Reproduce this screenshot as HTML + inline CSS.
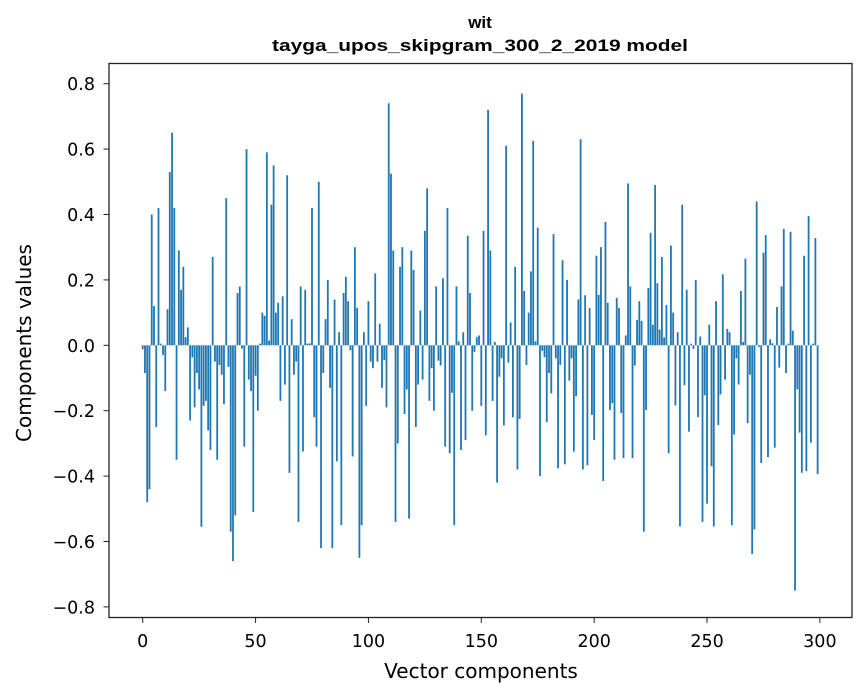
<!DOCTYPE html>
<html><head><meta charset="utf-8"><style>
body{margin:0;background:#fff}
svg{display:block;font-family:"DejaVu Sans","Liberation Sans",sans-serif}
</style></head><body>
<svg id="chart" width="867" height="696" viewBox="0 0 867 696">
<text x="480" y="28" text-anchor="middle" font-size="17" font-weight="bold" font-family="Liberation Sans, sans-serif">wit</text>
<text x="272" y="51" textLength="416" lengthAdjust="spacingAndGlyphs" font-size="17" font-weight="bold" font-family="Liberation Sans, sans-serif">tayga_upos_skipgram_300_2_2019 model</text>
<g id="bars"></g>
<g id="axes"></g>
<rect x="109" y="63.5" width="743" height="554" fill="none" stroke="#222" stroke-width="1.3"/>
<text x="481" y="678" text-anchor="middle" font-size="20">Vector components</text>
<text transform="translate(31,343) rotate(-90)" text-anchor="middle" font-size="20">Components values</text>
</svg>
<script>
const values = [-0.012,-0.085,-0.48,-0.44,0.40,0.12,-0.25,0.42,0.005,-0.03,
-0.14,0.11,0.53,0.65,0.42,-0.35,0.29,0.17,0.24,0.025,
0.055,-0.23,-0.037,-0.19,-0.085,-0.135,-0.555,-0.185,-0.17,-0.26,
-0.32,0.27,-0.05,-0.35,-0.06,-0.09,-0.18,0.45,-0.066,-0.57,
-0.66,-0.52,0.16,0.18,-0.01,-0.31,0.60,-0.105,-0.14,-0.51,
-0.093,-0.20,0.005,0.10,0.09,0.59,0.015,0.43,0.55,0.10,
0.13,-0.17,0.15,-0.12,0.52,-0.39,0.08,-0.09,-0.05,-0.54,
0.18,-0.325,0.17,0.005,0.006,0.42,-0.22,-0.31,0.50,-0.62,
-0.085,0.08,0.20,-0.13,-0.62,0.14,-0.355,0.04,-0.55,0.16,
0.21,0.135,-0.015,-0.34,0.30,0.115,-0.65,-0.55,0.04,-0.185,
0.135,-0.05,-0.07,0.22,-0.05,0.066,-0.13,-0.045,-0.19,0.74,
0.525,0.29,-0.54,-0.30,0.24,0.30,-0.21,-0.135,-0.53,0.29,
0.23,-0.25,-0.12,0.106,-0.105,0.35,0.48,-0.17,-0.07,-0.20,
0.18,-0.047,-0.062,0.205,-0.31,0.42,-0.33,-0.145,-0.55,0.18,
0.012,-0.32,0.04,-0.29,0.335,0.16,-0.20,-0.02,0.025,0.03,
-0.185,0.35,-0.275,0.72,0.29,-0.17,0.01,-0.42,-0.096,-0.04,
-0.245,0.61,-0.053,0.07,-0.22,0.24,-0.38,-0.225,0.77,0.166,
-0.06,0.10,0.226,0.625,0.012,0.36,-0.40,-0.017,-0.036,-0.235,
-0.085,-0.147,0.34,-0.04,-0.376,-0.06,0.26,-0.364,0.20,-0.108,
-0.04,-0.325,-0.156,0.14,0.63,-0.38,0.153,-0.367,0.114,-0.213,
-0.29,0.274,0.154,0.30,-0.415,0.377,0.13,-0.198,-0.177,-0.35,
0.145,0.114,-0.207,-0.345,0.03,0.495,0.18,-0.345,-0.062,0.078,
0.135,0.075,-0.57,-0.198,0.175,0.344,0.063,0.49,0.19,0.048,
0.27,0.024,0.123,-0.33,0.305,0.10,-0.184,0.04,-0.554,0.43,
-0.122,0.17,-0.264,0.005,-0.011,0.20,-0.22,0.027,-0.54,-0.153,
-0.484,0.063,-0.37,-0.554,0.135,-0.244,-0.15,0.217,-0.105,0.05,
0.04,-0.55,-0.273,-0.04,-0.12,0.166,0.01,0.265,-0.238,-0.09,
-0.638,-0.563,0.44,-0.005,-0.36,0.283,0.337,-0.342,0.018,0.006,
-0.313,0.117,-0.068,0.18,0.356,-0.085,0.005,0.347,0.045,-0.75,
-0.135,-0.267,-0.39,0.274,-0.385,0.395,-0.298,0.005,0.328,-0.394];
const xTicks = [0,50,100,150,200,250,300];
const yTicks = [-0.8,-0.6,-0.4,-0.2,0.0,0.2,0.4,0.6,0.8];
const NS='http://www.w3.org/2000/svg';
function xs(i){return 142.7 + i*2.2573;}
function ys(v){return 345.3 - v*327;}
const bars=document.getElementById('bars');
values.forEach((v,i)=>{
  const r=document.createElementNS(NS,'rect');
  
  
  const w=0.8*2.2573;
  r.setAttribute('x',xs(i)-w/2);
  r.setAttribute('width',w);
  r.setAttribute('y',Math.min(ys(v),ys(0)));
  r.setAttribute('height',Math.abs(ys(v)-ys(0)));
  r.setAttribute('fill','#1f77b4');
  bars.appendChild(r);
});
const axes=document.getElementById('axes');
xTicks.forEach(t=>{
  const l=document.createElementNS(NS,'line');
  
  
  l.setAttribute('x1',xs(t));l.setAttribute('x2',xs(t));
  l.setAttribute('y1',617.5);l.setAttribute('y2',623);
  l.setAttribute('stroke','#222');
  axes.appendChild(l);
  const tx=document.createElementNS(NS,'text');
  
  
  tx.setAttribute('x',xs(t));tx.setAttribute('y',647);
  tx.setAttribute('text-anchor','middle');tx.setAttribute('font-size','17.5');
  tx.textContent=t;
  axes.appendChild(tx);
});
yTicks.forEach(t=>{
  const l=document.createElementNS(NS,'line');
  
  
  l.setAttribute('x1',103.5);l.setAttribute('x2',109);
  l.setAttribute('y1',ys(t));l.setAttribute('y2',ys(t));
  l.setAttribute('stroke','#222');
  axes.appendChild(l);
  const tx=document.createElementNS(NS,'text');
  
  
  tx.setAttribute('x',95);tx.setAttribute('y',ys(t)+6.5);
  tx.setAttribute('text-anchor','end');tx.setAttribute('font-size','17.5');
  tx.textContent=(t<0?'\u22120':'0')+'.'+Math.round(Math.abs(t)*10);
  axes.appendChild(tx);
});
</script>
</body></html>
